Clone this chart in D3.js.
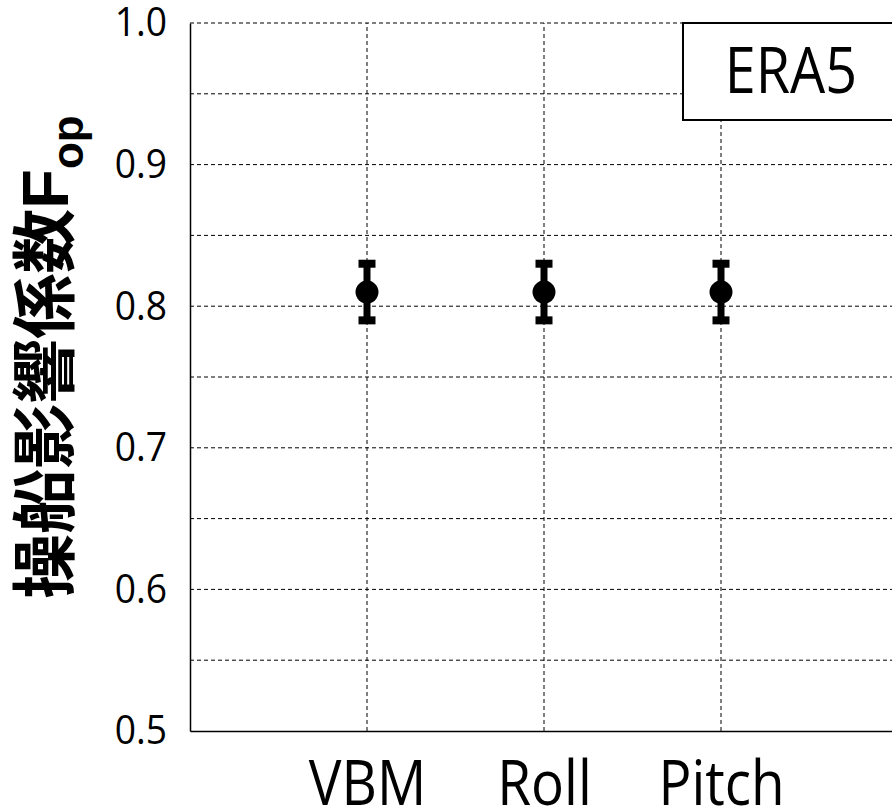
<!DOCTYPE html>
<html>
<head>
<meta charset="utf-8">
<script src="https://cdn.jsdelivr.net/npm/d3@7"></script>
<style>
  body { margin: 0; background: #fff; }
  svg { display: block; }
</style>
</head>
<body>
<div id="chart"></div>
<script>
// chart values
const categories = ['VBM', 'Roll', 'Pitch'];
const categoryPos = [1, 2, 3];
const meanValues = [0.81, 0.81, 0.81];
const lowValues = [0.79, 0.79, 0.79];
const highValues = [0.83, 0.83, 0.83];
const yTicks = [0.5, 0.6, 0.7, 0.8, 0.9, 1.0];
const yGrid = [0.55, 0.6, 0.65, 0.7, 0.75, 0.8, 0.85, 0.9, 0.95, 1.0];
const legendLabel = 'ERA5';

let width = 892,
  height = 809,
  margin = {top: 23, left: 190, bottom: 78};

let svg = d3.select('#chart')
  .append('svg')
    .attr('width', width)
    .attr('height', height);

// x runs 0..4 so the three categories sit at 1,2,3 (right edge goes off the picture)
let x = d3.scaleLinear()
  .domain([0, 4])
  .range([margin.left, margin.left + 4 * 177]);

let y = d3.scaleLinear()
  .domain([0.5, 1.0])
  .range([height - margin.bottom, margin.top]);

let fontLatin = '"Open Sans", "Noto Sans", sans-serif';

// the original font is narrower than anything installed, so squeeze the latin text a bit
let condense = function(sel, k) {
  sel.each(function() {
    let w = this.getComputedTextLength();
    d3.select(this)
      .attr('textLength', w * k)
      .attr('lengthAdjust', 'spacingAndGlyphs');
  });
};

// dashed gridlines
svg.append('g')
  .selectAll('line')
  .data(yGrid)
  .enter()
  .append('line')
    .attr('x1', x(0))
    .attr('x2', x(4))
    .attr('y1', d => y(d))
    .attr('y2', d => y(d))
    .style('stroke', '#000')
    .style('stroke-width', 1)
    .style('stroke-dasharray', '4,3');

svg.append('g')
  .selectAll('line')
  .data(categoryPos)
  .enter()
  .append('line')
    .attr('x1', d => x(d))
    .attr('x2', d => x(d))
    .attr('y1', y(0.5))
    .attr('y2', y(1.0))
    .style('stroke', '#000')
    .style('stroke-width', 1)
    .style('stroke-dasharray', '4,3');

// y axis: solid left edge, labels only
let yAxis = svg.append('g')
  .attr('transform', 'translate(' + x(0) + ',0)')
  .call(d3.axisLeft(y).tickValues(yTicks).tickFormat(d3.format('.1f')).tickSize(0).tickPadding(23));
yAxis.select('.domain').style('stroke', '#000').style('stroke-width', 1.5);
yAxis.selectAll('text')
  .style('font-family', fontLatin)
  .style('font-size', '40px')
  .style('fill', '#000')
  .call(condense, 0.93);

// x axis: solid bottom edge, category names
let xAxis = svg.append('g')
  .attr('transform', 'translate(0,' + y(0.5) + ')')
  .call(d3.axisBottom(x).tickValues(categoryPos).tickFormat((d, i) => categories[i]).tickSize(0));
xAxis.select('.domain').style('stroke', '#000').style('stroke-width', 1.5);
xAxis.selectAll('text')
  .attr('dy', null)
  .attr('y', 74)
  .style('font-family', fontLatin)
  .style('font-size', '63px')
  .style('fill', '#000')
  .call(condense, 0.87);

// error bars
let points = categoryPos.map((p, i) => ({x: p, mean: meanValues[i], low: lowValues[i], high: highValues[i]}));

let marks = svg.append('g');
marks.selectAll('.err')
  .data(points)
  .enter()
  .append('line')
    .attr('class', 'err')
    .attr('x1', d => x(d.x))
    .attr('x2', d => x(d.x))
    .attr('y1', d => y(d.low))
    .attr('y2', d => y(d.high))
    .style('stroke', '#000')
    .style('stroke-width', 7);

['low', 'high'].forEach(function(k) {
  marks.selectAll('.cap-' + k)
    .data(points)
    .enter()
    .append('line')
      .attr('class', 'cap-' + k)
      .attr('x1', d => x(d.x) - 8.5)
      .attr('x2', d => x(d.x) + 8.5)
      .attr('y1', d => y(d[k]))
      .attr('y2', d => y(d[k]))
      .style('stroke', '#000')
      .style('stroke-width', 8);
});

marks.selectAll('circle')
  .data(points)
  .enter()
  .append('circle')
    .attr('cx', d => x(d.x))
    .attr('cy', d => y(d.mean))
    .attr('r', 11.5)
    .style('fill', '#000');

// legend box in the top right corner
svg.append('rect')
  .attr('x', 683)
  .attr('y', y(1.0))
  .attr('width', 240)
  .attr('height', 97)
  .style('fill', '#fff')
  .style('stroke', '#000')
  .style('stroke-width', 2);

svg.append('text')
  .attr('x', 791)
  .attr('y', 93)
  .attr('text-anchor', 'middle')
  .style('font-family', fontLatin)
  .style('font-size', '64px')
  .text(legendLabel)
  .call(condense, 0.87);

// rotated y axis title with subscript
let title = svg.append('text')
  .attr('transform', 'translate(68,357) rotate(-90)')
  .attr('text-anchor', 'middle')
  .style('font-family', '"Liberation Sans", "Noto Sans CJK JP", sans-serif')
  .style('font-weight', 'bold')
  .style('font-size', '65px');
title.append('tspan').text('操船影響係数F');
title.append('tspan')
  .attr('dy', 15)
  .style('font-size', '44px')
  .text('op');
</script>
</body>
</html>
